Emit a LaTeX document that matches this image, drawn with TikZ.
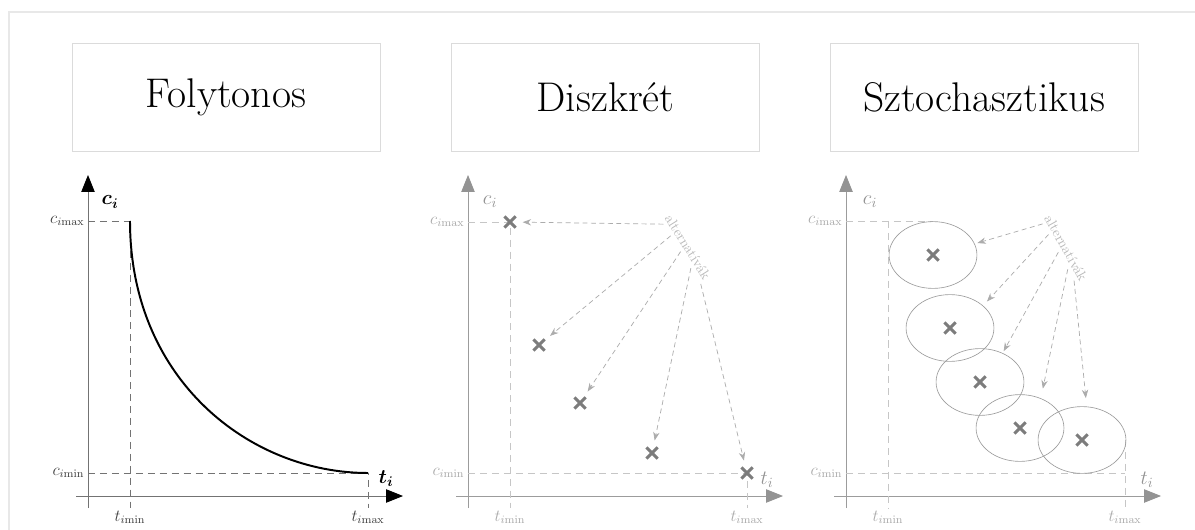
\documentclass[tikz,border=0pt]{standalone}
\usepackage{amsmath, amssymb}
\usepackage{bm}
\usepackage{tikz}
\usetikzlibrary{arrows.meta, shapes.misc, shapes.geometric, calc, shadows}

\definecolor{framegray}{HTML}{E8E8E8}
\definecolor{axisgray}{HTML}{9C9C9C}
\definecolor{markgray}{HTML}{7C7C7C}
\definecolor{lightlabel}{HTML}{ABABAB}

\tikzset{
  titlebox/.style={draw=black!14, fill=white, minimum width=219pt, minimum height=77pt, inner sep=0pt,
    drop shadow={shadow xshift=0.6pt, shadow yshift=-0.8pt, opacity=0.18},
    font=\fontsize{29.5}{34}\selectfont},
  axisA/.style={black!55, line width=0.6pt, -{Triangle[length=12pt, width=9.5pt, color=black]}},
  axisB/.style={axisgray, line width=0.6pt, -{Triangle[length=12pt, width=9.5pt, color=gray!85]}},
  limA/.style={black!55, line width=0.5pt, dash pattern=on 5pt off 3.5pt},
  limB/.style={gray!45, line width=0.5pt, dash pattern=on 5pt off 3.5pt},
  tickA/.style={font=\large, text=black!75, inner sep=1pt},
  tickB/.style={font=\large, text=lightlabel, inner sep=1pt},
  altmark/.style={cross out, draw=markgray, line width=2.1pt, minimum size=8pt, inner sep=0pt, outer sep=0pt},
  altellipse/.style={ellipse, draw=axisgray, line width=0.45pt, minimum width=62.5pt, minimum height=47.5pt, inner sep=0pt},
  altlab/.style={font=\normalsize, text=gray!55, inner sep=2.5pt},
  altarrow/.style={gray!65, line width=0.5pt, dash pattern=on 3.5pt off 2.5pt, -{Stealth[length=6pt, width=4.5pt]}}
}

\begin{document}
\begin{tikzpicture}[x=0.25mm, y=-0.25mm]
  \useasboundingbox (0,0) rectangle (1195,530);
  \fill [white] (0,0) rectangle (1195,530);

  % Draw frame
  \draw [framegray, line width=1.4pt] (9,530) -- (9,12) -- (1195,12);

  % Draw titles
  \node [titlebox] (folytonos) at (226,97) {Folytonos};
  \node [titlebox] (diszkret) at (605.5,97) {Diszkrét};
  \node [titlebox] (sztoch) at (984,97) {Sztochasztikus};

  % Folytonos: axes
  \draw [axisA] (88,508) -- (88,175);
  \draw [axisA] (76,496) -- (403,496);

  % Folytonos: limits and curve
  \draw [limA] (88,221) -- (130,221) -- (130,508);
  \draw [limA] (88,473) -- (368,473) -- (368,508);
  \draw [line width=1.4pt] (130,221) .. controls (130,380) and (250,473) .. (368,473);

  % Folytonos: labels
  \node [tickA, anchor=east] (cmaxA) at (86,221) {$c_{i\mathrm{max}}$};
  \node [tickA, anchor=east] (cminA) at (86,473) {$c_{i\mathrm{min}}$};
  \node [tickA, anchor=north] (tminA) at (130,509) {$t_{i\mathrm{min}}$};
  \node [tickA, anchor=north] (tmaxA) at (368,509) {$t_{i\mathrm{max}}$};
  \node [font=\Large] (ciA) at (110,202) {$\bm{c_i}$};
  \node [font=\Large] (tiA) at (386,479) {$\bm{t_i}$};

  % Diszkret
  \begin{scope}[shift={(380,0)}]
    \draw [axisB] (88,508) -- (88,175);
    \draw [axisB] (76,496) -- (403,496);
    \draw [limB] (88,222) -- (130,222) -- (130,508);
    \draw [limB] (88,473) -- (367,473) -- (367,508);

    \node [altmark] (d1) at (130,222) {};
    \node [altmark] (d2) at (159,345) {};
    \node [altmark] (d3) at (200,403) {};
    \node [altmark] (d4) at (272,453) {};
    \node [altmark] (d5) at (367,473) {};

    \node [altlab, rotate=-58] (altd) at (308,247) {alternatívák};
    \foreach \f [count=\k] in {0.1,0.27,0.5,0.74,0.97}
      \coordinate (pd\k) at ($(altd.south west)!\f!(altd.south east)$);
    \foreach \k in {1,...,5}
      \draw [altarrow, shorten >=5pt] (pd\k) -- (d\k);

    \node [tickB, anchor=east] (cmaxB) at (86,222) {$c_{i\mathrm{max}}$};
    \node [tickB, anchor=east] (cminB) at (86,473) {$c_{i\mathrm{min}}$};
    \node [tickB, anchor=north] (tminB) at (130,509) {$t_{i\mathrm{min}}$};
    \node [tickB, anchor=north] (tmaxB) at (367,509) {$t_{i\mathrm{max}}$};
    \node [font=\Large, text=gray!85] (ciB) at (110,202) {$c_i$};
    \node [font=\Large, text=gray!85] (tiB) at (387,480) {$t_i$};
  \end{scope}

  % Sztochasztikus
  \begin{scope}[shift={(758,0)}]
    \draw [axisB] (88,508) -- (88,175);
    \draw [axisB] (76,496) -- (403,496);
    \draw [limB] (88,221) -- (175,221);
    \draw [limB] (130,221) -- (130,508);
    \draw [limB] (88,473) -- (367,473);
    \draw [limB] (367,440) -- (367,508);

    \foreach \pos [count=\k] in {(175,255),(192,328),(222,382),(262,428),(324,440)} {
      \node [altellipse] (e\k) at \pos {};
      \node [altmark] (s\k) at \pos {};
    }

    \node [altlab, rotate=-61] (alts) at (308,248) {alternatívák};
    \foreach \f [count=\k] in {0.1,0.25,0.5,0.74,0.9}
      \coordinate (ps\k) at ($(alts.south west)!\f!(alts.south east)$);
    \foreach \k/\a/\s in {1/15/2pt, 2/34/4pt, 3/52/1.5pt, 4/55/7pt, 5/82/6pt}
      \draw [altarrow, shorten >=\s] (ps\k) -- (e\k.\a);

    \node [tickB, anchor=east] (cmaxC) at (86,221) {$c_{i\mathrm{max}}$};
    \node [tickB, anchor=east] (cminC) at (86,473) {$c_{i\mathrm{min}}$};
    \node [tickB, anchor=north] (tminC) at (130,509) {$t_{i\mathrm{min}}$};
    \node [tickB, anchor=north] (tmaxC) at (367,509) {$t_{i\mathrm{max}}$};
    \node [font=\Large, text=gray!85] (ciC) at (112,202) {$c_i$};
    \node [font=\Large, text=gray!85] (tiC) at (389,480) {$t_i$};
  \end{scope}
\end{tikzpicture}
\end{document}
